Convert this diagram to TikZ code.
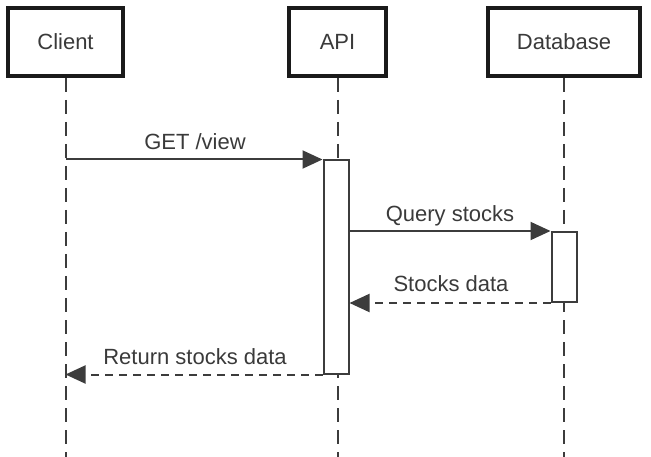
\documentclass[tikz,border=0pt]{standalone}
\usepackage{fontspec}
\setmainfont{Liberation Sans}
\usetikzlibrary{arrows.meta}
\definecolor{ink}{HTML}{1A1A1A}
\definecolor{txt}{HTML}{3A3A3A}
\tikzset{
  actor/.style={draw=ink, line width=4pt, fill=white, inner sep=0pt, text=txt,
    font=\fontsize{22}{26}\selectfont},
  life/.style={draw=ink!85, line width=2pt, dash pattern=on 14pt off 8pt},
  act/.style={draw=ink!85, line width=2pt, fill=white, minimum width=25pt, inner sep=0pt},
  msg/.style={draw=ink!85, line width=2pt, -{Triangle[length=20pt,width=18pt]}},
  ret/.style={msg, dash pattern=on 8pt off 6pt},
  lbl/.style={text=txt, font=\fontsize{22}{26}\selectfont, anchor=base, inner sep=0pt}
}
\begin{document}
\begin{tikzpicture}[x=1pt,y=-1pt]
\useasboundingbox (0,0) rectangle (651,457);
% actors
\node[actor, minimum width=115pt, minimum height=68pt] (client) at (65.5,42) {Client};
\node[actor, minimum width=97pt, minimum height=68pt] (api) at (337.5,42) {API};
\node[actor, minimum width=152pt, minimum height=68pt] (db) at (564,42) {Database};
% lifeline ends
\coordinate (clientend) at (65.5,457);
\coordinate (apiend) at (337.5,457);
\coordinate (dbend) at (564,457);
\draw[life] (client.south) -- (clientend);
\draw[life] (api.south) -- (apiend);
\draw[life] (db.south) -- (dbend);
% activations
\node[act, minimum height=213pt] (apiact) at (336,267) {};
\node[act, minimum height=70pt] (dbact) at (564,267) {};
% messages
\draw[msg] (apiact.north west -| client) -- (apiact.north west);
\draw[msg] (apiact.east |- dbact.north) -- (dbact.north west);
\draw[ret] (dbact.south west) -- (apiact.east |- dbact.south);
\draw[ret] (apiact.south west) -- (apiact.south west -| client);
% labels
\node[lbl] (l1) at (195,150) {GET /view};
\node[lbl] (l2) at (450,222) {Query stocks};
\node[lbl] (l3) at (451,292) {Stocks data};
\node[lbl] (l4) at (195,364) {Return stocks data};
\end{tikzpicture}
\end{document}
